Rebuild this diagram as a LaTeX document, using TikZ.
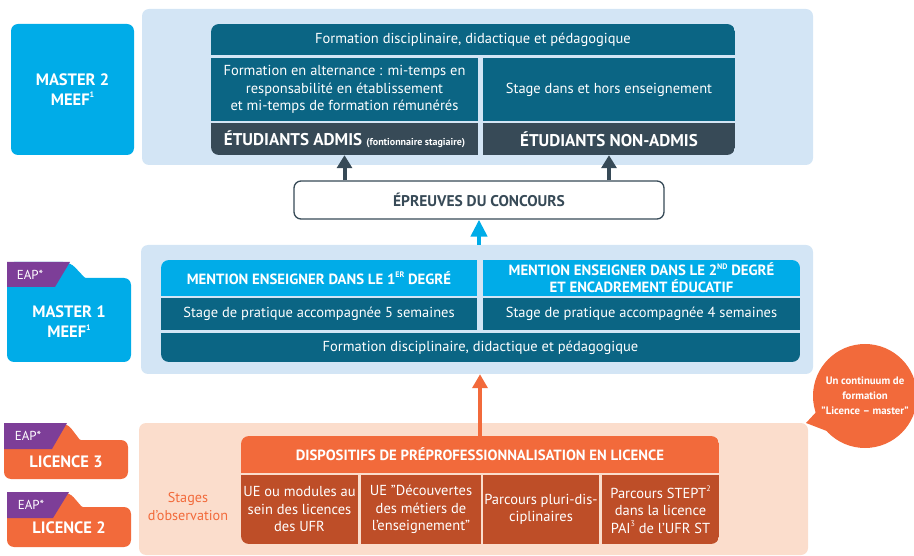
\documentclass[tikz,border=0pt]{standalone}
\usepackage{fontspec}
\setmainfont{PT Sans}
\usetikzlibrary{arrows.meta}
\definecolor{eucyan}{RGB}{0,172,232}
\definecolor{eupanel}{RGB}{211,229,245}
\definecolor{euteal}{RGB}{11,101,132}
\definecolor{euslate}{RGB}{55,74,87}
\definecolor{eupurple}{RGB}{125,62,152}
\definecolor{euorange}{RGB}{242,106,59}
\definecolor{eurust}{RGB}{190,78,40}
\definecolor{eupeach}{RGB}{251,221,204}
\newcommand{\eusup}[1]{\raisebox{0.45em}{\fontsize{8}{8}\selectfont #1}}

\begin{document}
\begin{tikzpicture}[x=1pt, y=-1pt,
  panel/.style={rectangle, rounded corners=7pt, inner sep=0pt},
  cell/.style={rectangle, inner sep=0pt, align=center, text=white,
    font=\fontsize{14.5}{17.5}\selectfont},
  headcell/.style={cell, font=\fontsize{14.8}{17}\selectfont\bfseries},
  lvltext/.style={align=center, text=white, font=\fontsize{16.5}{20}\selectfont\bfseries},
  tabtext/.style={text=white, font=\fontsize{13}{14}\selectfont},
  uparrow/.style={-{Triangle[length=13pt, width=15pt]}, line width=4pt}
]
\clip (0,0) rectangle (914,556);

% Master 2
\node[panel, fill=eupanel, minimum width=671pt, minimum height=156pt] (m2) at (477.5,87) {};
\node[panel, fill=eucyan, minimum width=123pt, minimum height=131pt, lvltext] (m2lbl) at (72.5,89.5) {MASTER 2\\MEEF\eusup{1}};
\begin{scope}
\clip[rounded corners=8pt] (211,24) rectangle (735,155);
\node[cell, fill=euteal, minimum width=524pt, minimum height=31pt] (fdm2) at (473,39.5) {Formation disciplinaire, didactique et pédagogique};
\node[cell, fill=euteal, minimum width=267pt, minimum height=63pt] (altern) at (344.5,89.5) {Formation en alternance : mi-temps en\\responsabilité en établissement\\et mi-temps de formation rémunérés};
\node[cell, fill=euteal, minimum width=252pt, minimum height=63pt] (hors) at (609,89.5) {Stage dans et hors enseignement};
\node[headcell, fill=euslate, minimum width=267pt, minimum height=32pt, font=\fontsize{17}{18}\selectfont\bfseries] (admis) at (344.5,139) {ÉTUDIANTS ADMIS {\fontsize{10}{10}\selectfont (fontionnaire stagiaire)}};
\node[headcell, fill=euslate, minimum width=252pt, minimum height=32pt, font=\fontsize{17}{18}\selectfont\bfseries] (nonadmis) at (609,139) {ÉTUDIANTS NON-ADMIS};
\end{scope}

% Concours
\node[panel, draw=euslate, line width=1.3pt, fill=white, minimum width=370pt, minimum height=38pt, text=euslate, font=\fontsize{15.5}{17}\selectfont\bfseries] (concours) at (479,200) {ÉPREUVES DU CONCOURS};
\draw[uparrow, euslate] (concours.north -| admis.south) -- (admis.south);
\draw[uparrow, euslate] (concours.north -| nonadmis.south) -- (nonadmis.south);

% Master 1
\node[panel, fill=eupanel, minimum width=672pt, minimum height=129pt] (m1) at (477,309.5) {};
\fill[eucyan, rounded corners=7pt] (7,262) -- (70,262) [rounded corners=1pt] -- (85,278) [rounded corners=7pt] -- (131,278) -- (131,362) -- (7,362) -- cycle;
\fill[eupurple] (7,262) -- (70,262) -- (55,287) -- (7,287) -- cycle;
\node[tabtext] (m1tab) at (30,274.5) {EAP*};
\node[lvltext] (m1lbl) at (69,322) {MASTER 1\\MEEF\eusup{1}};
\begin{scope}
\clip[rounded corners=8pt] (161,260) rectangle (800,362);
\node[headcell, fill=eucyan, minimum width=316pt, minimum height=36pt] (men1) at (319,278) {MENTION ENSEIGNER DANS LE 1\eusup{ER} DEGRÉ};
\node[headcell, fill=eucyan, minimum width=317pt, minimum height=36pt] (men2) at (641.5,278) {MENTION ENSEIGNER DANS LE 2\eusup{ND} DEGRÉ\\ET ENCADREMENT ÉDUCATIF};
\node[cell, fill=euteal, minimum width=316pt, minimum height=32pt] (stg1) at (319,314) {Stage de pratique accompagnée 5 semaines};
\node[cell, fill=euteal, minimum width=317pt, minimum height=32pt] (stg2) at (641.5,314) {Stage de pratique accompagnée 4 semaines};
\node[cell, fill=euteal, minimum width=639pt, minimum height=29pt] (fdm1) at (480.5,347.5) {Formation disciplinaire, didactique et pédagogique};
\end{scope}
\draw[-{Triangle[length=17pt, width=16pt]}, line width=4.5pt, eucyan] (m1.north -| concours.south) -- (concours.south);

% Licence
\node[panel, fill=eupeach, minimum width=669pt, minimum height=132pt] (lic) at (473.5,489) {};
\fill[euorange, rounded corners=7pt] (4,423) -- (67,423) [rounded corners=1pt] -- (80,440) [rounded corners=7pt] -- (128,440) -- (128,479) -- (4,479) -- cycle;
\fill[eupurple] (4,423) -- (67,423) -- (52,449) -- (4,449) -- cycle;
\node[tabtext] (l3tab) at (28,436) {EAP*};
\node[lvltext] (l3lbl) at (66,462) {LICENCE 3};
\fill[euorange, rounded corners=7pt] (7,492) -- (69,492) [rounded corners=1pt] -- (82,507) [rounded corners=7pt] -- (131,507) -- (131,547) -- (7,547) -- cycle;
\fill[eupurple] (7,492) -- (69,492) -- (53,518) -- (7,518) -- cycle;
\node[tabtext] (l2tab) at (31,505) {EAP*};
\node[lvltext] (l2lbl) at (69,528) {LICENCE 2};
\node[align=center, text=euorange, font=\fontsize{14.2}{18}\selectfont] (obs) at (188,507) {Stages\\d'observation};
\begin{scope}
\clip[rounded corners=8pt] (241,436) rectangle (719,544);
\node[headcell, fill=euorange, minimum width=478pt, minimum height=37pt] (disp) at (480,454.5) {DISPOSITIFS DE PRÉPROFESSIONNALISATION EN LICENCE};
\node[cell, fill=eurust, minimum width=117pt, minimum height=69pt] (ue1) at (299.5,509.5) {UE ou modules au\\sein des licences\\des UFR};
\node[cell, fill=eurust, minimum width=120pt, minimum height=69pt] (ue2) at (421,509.5) {UE "Découvertes\\des métiers de\\l'enseignement"};
\node[cell, fill=eurust, minimum width=116pt, minimum height=69pt] (pluri) at (541,509.5) {Parcours pluri-dis-\\ciplinaires};
\node[cell, fill=eurust, minimum width=117pt, minimum height=69pt] (stept) at (660.5,509.5) {Parcours STEPT\eusup{2}\\dans la licence\\PAI\eusup{3} de l'UFR ST};
\end{scope}
\draw[-{Triangle[length=14pt, width=15pt]}, line width=3.5pt, euorange] (disp.north) -- (disp.north |- m1.south);

% Bulle
\fill[euorange] (818,410) -- (806,423) -- (832,433) -- cycle;
\node[circle, fill=euorange, minimum size=104pt, inner sep=0pt, align=center, text=white, font=\fontsize{10.8}{15}\selectfont\bfseries] (bulle) at (865,396) {Un continuum de\\formation\\"Licence -- master"};
\end{tikzpicture}
\end{document}
